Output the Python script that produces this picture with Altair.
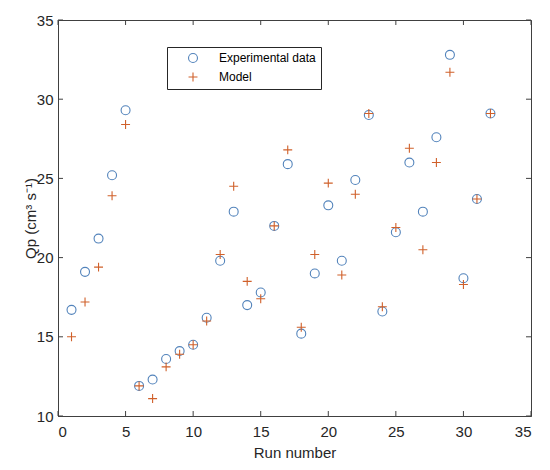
import altair as alt
import pandas as pd

runs = list(range(1, 33))
experimental = [16.7, 19.1, 21.2, 25.2, 29.3, 11.9, 12.3, 13.6, 14.1, 14.5, 16.2, 19.8,
                22.9, 17.0, 17.8, 22.0, 25.9, 15.2, 19.0, 23.3, 19.8, 24.9, 29.0, 16.6,
                21.6, 26.0, 22.9, 27.6, 32.8, 18.7, 23.7, 29.1]
model = [15.0, 17.2, 19.4, 23.9, 28.4, 11.9, 11.1, 13.1, 13.9, 14.5, 16.0, 20.2,
         24.5, 18.5, 17.4, 22.0, 26.8, 15.6, 20.2, 24.7, 18.9, 24.0, 29.1, 16.9,
         21.9, 26.9, 20.5, 26.0, 31.7, 18.3, 23.7, 29.1]
series_names = ["Experimental data", "Model"]
x_ticks = [0, 5, 10, 15, 20, 25, 30, 35]
y_ticks = [10, 15, 20, 25, 30, 35]

W, H = 473, 396
FONT = "Liberation Sans"
AX = "#404040"

df = pd.DataFrame({
    "run": runs * 2,
    "value": experimental + model,
    "series": [series_names[0]] * len(runs) + [series_names[1]] * len(runs),
})
xt = pd.DataFrame({"t": x_ticks})
yt = pd.DataFrame({"t": y_ticks})

xscale = alt.Scale(domain=[0, 35], nice=False, zero=False)
yscale = alt.Scale(domain=[10, 35], nice=False, zero=False)

points = alt.Chart(df).mark_point(filled=False, strokeWidth=1.1, size=80, opacity=1).encode(
    x=alt.X("run:Q", scale=xscale,
            axis=alt.Axis(values=x_ticks, title="Run number", ticks=False,
                          labelPadding=8, titlePadding=6)),
    y=alt.Y("value:Q", scale=yscale,
            axis=alt.Axis(values=y_ticks, title="Qp (cm³ s⁻¹)", ticks=False,
                          labelPadding=5, titlePadding=-2)),
    color=alt.Color("series:N",
                    scale=alt.Scale(domain=series_names, range=["#5283bb", "#d0602a"]),
                    legend=alt.Legend(title=None, orient="none", legendX=109, legendY=27)),
    shape=alt.Shape("series:N",
                    scale=alt.Scale(domain=series_names, range=["circle", "M-1,0L1,0M0,-1L0,1"]),
                    legend=alt.Legend(title=None, orient="none", legendX=109, legendY=27)),
)

tick_bottom = alt.Chart(xt).mark_rule(color=AX).encode(
    x=alt.X("t:Q", scale=xscale), y=alt.value(H), y2=alt.value(H - 5))
tick_top = alt.Chart(xt).mark_rule(color=AX).encode(
    x=alt.X("t:Q", scale=xscale), y=alt.value(0), y2=alt.value(5))
tick_left = alt.Chart(yt).mark_rule(color=AX).encode(
    y=alt.Y("t:Q", scale=yscale), x=alt.value(0), x2=alt.value(5))
tick_right = alt.Chart(yt).mark_rule(color=AX).encode(
    y=alt.Y("t:Q", scale=yscale), x=alt.value(W), x2=alt.value(W - 5))

chart = alt.layer(tick_bottom, tick_top, tick_left, tick_right, points).properties(
    width=W, height=H,
    autosize=alt.AutoSizeParams(type="none"),
    padding={"left": 50, "top": 12, "right": 11, "bottom": 52},
).configure_view(
    stroke=AX, strokeWidth=1
).configure_axis(
    domainColor=AX, labelColor="#262626", titleColor="#262626",
    labelFont=FONT, titleFont=FONT, labelFontSize=15, titleFontSize=15,
    titleFontWeight="normal", grid=False,
).configure_legend(
    labelFont=FONT, labelFontSize=12, labelColor="#000000",
    strokeColor="#262626", fillColor="#ffffff", padding=5,
    symbolOffset=15, labelOffset=20, rowPadding=5, symbolSize=80,
    symbolStrokeWidth=1.1,
)

chart.save("out.html", embed_options={"renderer": "svg", "actions": False})
